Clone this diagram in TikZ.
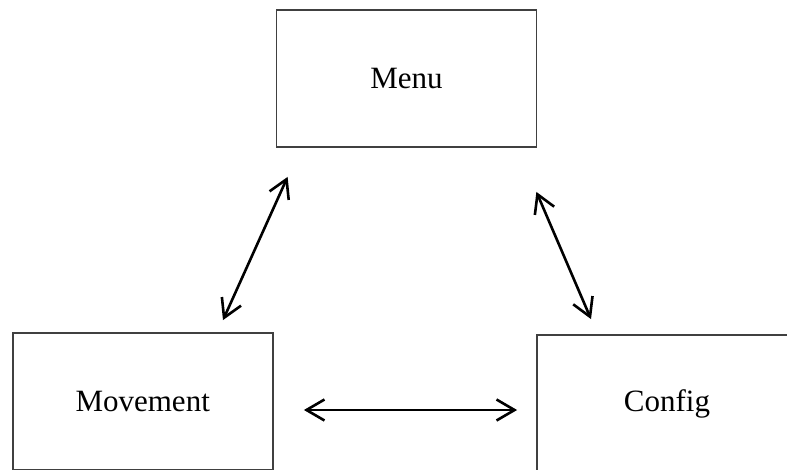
\documentclass[tikz,border=0pt]{standalone}
\usepackage{fontspec}
\setmainfont{Liberation Serif}
\usepackage{tikz}
\usetikzlibrary{arrows.meta, positioning, calc}

\begin{document}
\begin{tikzpicture}[x=1pt, y=-1pt,
  estado/.style={draw=borda, line width=1.8pt, minimum width=260pt, minimum height=137pt, inner sep=0pt, font=\fontsize{31}{36}\selectfont},
  ligacao/.style={line width=2.6pt, draw=black, {Straight Barb[length=18pt, width=21pt]}-{Straight Barb[length=18pt, width=21pt]}}]
% --- CORES E AREA VISIVEL ---
\definecolor{borda}{HTML}{404040}
\useasboundingbox (0,0) rectangle (787,470);
\clip (0,0) rectangle (787,470);

% LAYER 1: Estados
\node[estado] (menu) at (406.5,78.5) {Menu};
\node[estado] (movement) at (142.7,401.5) {Movement};
\node[estado] (config) at (667,403.5) {Config};

% LAYER 2: Transicoes
\draw[ligacao] ([shift={(80.3,-12)}]movement.north) -- ([shift={(12,29)}]menu.south west);
\draw[ligacao] ([shift={(-1,44)}]menu.south east) -- ([shift={(-76,-15)}]config.north);
\draw[ligacao] ([shift={(30.3,8.5)}]movement.east) -- ([shift={(-19,6.5)}]config.west);
\end{tikzpicture}
\end{document}
